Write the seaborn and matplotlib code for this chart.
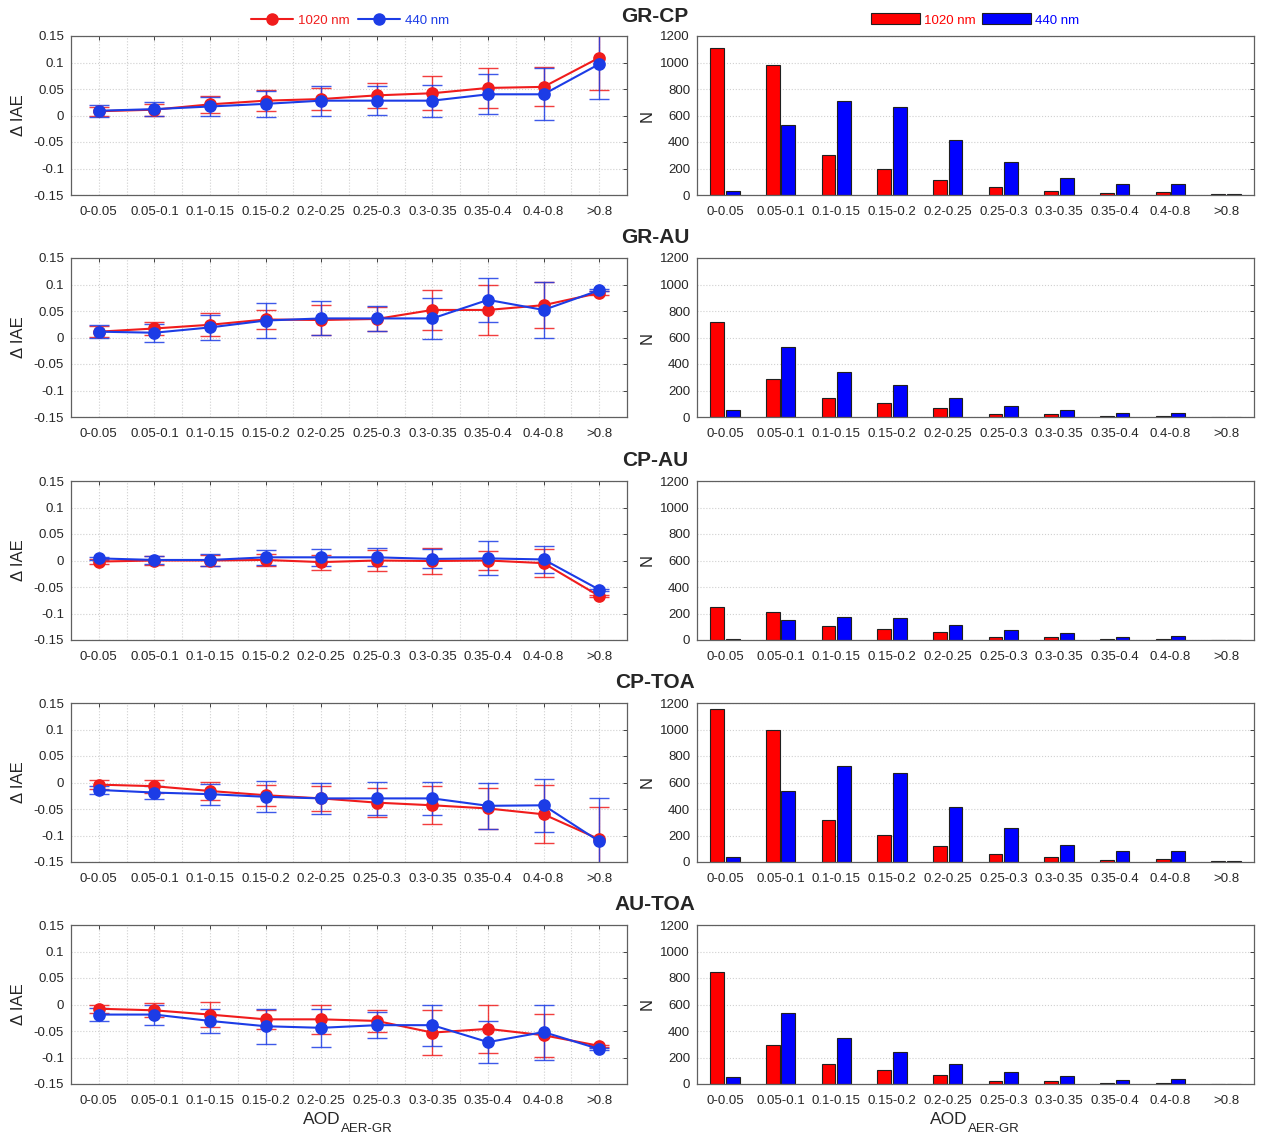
import numpy as np
import pandas as pd
import matplotlib
matplotlib.use('Agg')
import matplotlib.pyplot as plt
from matplotlib.lines import Line2D
from matplotlib.patches import Patch
from matplotlib.ticker import MultipleLocator, FixedLocator
import seaborn as sns

# ---------------------------------------------------------------------------
# data
# ---------------------------------------------------------------------------
bins = ['0-0.05', '0.05-0.1', '0.1-0.15', '0.15-0.2', '0.2-0.25',
        '0.25-0.3', '0.3-0.35', '0.35-0.4', '0.4-0.8', '>0.8']
wavelengths = ['1020 nm', '440 nm']
pairs = ['GR-CP', 'GR-AU', 'CP-AU', 'CP-TOA', 'AU-TOA']

# GR-CP
grcp_1020 = [0.008, 0.011, 0.021, 0.028, 0.031, 0.038, 0.042, 0.052, 0.054, 0.109]
grcp_1020_sd = [0.008, 0.011, 0.016, 0.020, 0.021, 0.024, 0.032, 0.037, 0.037, 0.061]
grcp_440 = [0.009, 0.012, 0.017, 0.022, 0.028, 0.028, 0.028, 0.040, 0.040, 0.097]
grcp_440_sd = [0.011, 0.013, 0.018, 0.025, 0.028, 0.027, 0.030, 0.038, 0.049, 0.065]
grcp_n1020 = [1112, 980, 305, 200, 112, 57, 32, 12, 22, 7]
grcp_n440 = [30, 530, 712, 662, 412, 250, 125, 80, 80, 7]

# GR-AU
grau_1020 = [0.011, 0.017, 0.024, 0.034, 0.033, 0.035, 0.052, 0.052, 0.061, 0.084]
grau_1020_sd = [0.010, 0.013, 0.022, 0.018, 0.029, 0.022, 0.037, 0.047, 0.043, 0.003]
grau_440 = [0.011, 0.009, 0.019, 0.032, 0.036, 0.036, 0.036, 0.071, 0.052, 0.089]
grau_440_sd = [0.012, 0.017, 0.023, 0.033, 0.032, 0.023, 0.039, 0.042, 0.053, 0.002]
grau_n1020 = [720, 290, 142, 102, 67, 25, 25, 7, 10, 0]
grau_n440 = [50, 527, 340, 242, 145, 85, 55, 27, 32, 0]

# CP-AU
cpau_1020 = [-0.002, 0.0, 0.0, 0.001, -0.003, 0.0, -0.001, 0.0, -0.005, -0.067]
cpau_1020_sd = [0.005, 0.009, 0.011, 0.011, 0.014, 0.019, 0.025, 0.017, 0.027, 0.002]
cpau_440 = [0.004, 0.001, 0.001, 0.006, 0.006, 0.006, 0.003, 0.004, 0.002, -0.055]
cpau_440_sd = [0.003, 0.007, 0.011, 0.014, 0.016, 0.017, 0.018, 0.032, 0.026, 0.002]
cpau_n1020 = [250, 212, 102, 80, 60, 20, 20, 7, 10, 2]
cpau_n440 = [10, 150, 175, 165, 110, 72, 50, 22, 27, 2]

# CP-TOA
cptoa_1020 = [-0.004, -0.007, -0.016, -0.024, -0.030, -0.038, -0.043, -0.049, -0.060, -0.107]
cptoa_1020_sd = [0.008, 0.012, 0.017, 0.020, 0.023, 0.028, 0.036, 0.038, 0.055, 0.060]
cptoa_440 = [-0.014, -0.019, -0.022, -0.027, -0.030, -0.030, -0.030, -0.044, -0.043, -0.111]
cptoa_440_sd = [0.008, 0.012, 0.020, 0.029, 0.030, 0.031, 0.031, 0.043, 0.050, 0.081]
cptoa_n1020 = [1152, 997, 315, 202, 120, 62, 37, 15, 25, 7]
cptoa_n440 = [37, 537, 722, 672, 415, 255, 130, 85, 82, 10]

# AU-TOA
autoa_1020 = [-0.008, -0.011, -0.019, -0.028, -0.028, -0.031, -0.053, -0.046, -0.058, -0.078]
autoa_1020_sd = [0.008, 0.013, 0.024, 0.018, 0.027, 0.020, 0.042, 0.046, 0.041, 0.002]
autoa_440 = [-0.019, -0.019, -0.031, -0.041, -0.044, -0.039, -0.039, -0.071, -0.052, -0.084]
autoa_440_sd = [0.013, 0.019, 0.023, 0.033, 0.036, 0.024, 0.039, 0.040, 0.052, 0.002]
autoa_n1020 = [845, 295, 150, 105, 70, 25, 25, 10, 10, 2]
autoa_n440 = [55, 535, 345, 245, 152, 87, 57, 27, 35, 2]

panels = [
    (grcp_1020, grcp_1020_sd, grcp_440, grcp_440_sd, grcp_n1020, grcp_n440),
    (grau_1020, grau_1020_sd, grau_440, grau_440_sd, grau_n1020, grau_n440),
    (cpau_1020, cpau_1020_sd, cpau_440, cpau_440_sd, cpau_n1020, cpau_n440),
    (cptoa_1020, cptoa_1020_sd, cptoa_440, cptoa_440_sd, cptoa_n1020, cptoa_n440),
    (autoa_1020, autoa_1020_sd, autoa_440, autoa_440_sd, autoa_n1020, autoa_n440),
]

# ---------------------------------------------------------------------------
# style
# ---------------------------------------------------------------------------
sns.set_theme(style='white')
plt.rcParams['font.family'] = ['Liberation Sans', 'DejaVu Sans']
plt.rcParams['xtick.direction'] = 'in'
plt.rcParams['ytick.direction'] = 'in'

RED_LINE = '#f01c1c'
BLUE_LINE = '#1c3ce6'
RED_BAR = '#ff0000'
BLUE_BAR = '#0000ff'
SPINE = '#606060'
GRID = '#d0d0d0'
TICK_FS = 9.5

W, H = 1266, 1139
fig = plt.figure(figsize=(W / 100, H / 100), dpi=100)
fig.patch.set_facecolor('white')

row_tops = [36, 258, 481, 703, 925]
ax_h = 159


def frac_box(left, top, width, height):
    return [left / W, 1 - (top + height) / H, width / W, height / H]


def style_axes(ax):
    for s in ax.spines.values():
        s.set_visible(True)
        s.set_color(SPINE)
        s.set_linewidth(0.9)
    ax.tick_params(axis='both', labelsize=TICK_FS, colors='#404040',
                   length=3, width=0.7, top=True, right=True,
                   labelcolor='#262626')
    ax.tick_params(axis='x', pad=8)
    ax.tick_params(axis='y', pad=5)
    ax.set_xlabel('')
    ax.set_ylabel('')


for i, (r_mean, r_sd, b_mean, b_sd, n_red, n_blue) in enumerate(panels):
    top = row_tops[i]

    # ----- left: delta IAE vs AOD bin -----
    ax = fig.add_axes(frac_box(71, top, 556, ax_h))
    df = pd.DataFrame({
        'bin': bins * 2,
        'val': list(r_mean) + list(b_mean),
        'wl': [wavelengths[0]] * len(bins) + [wavelengths[1]] * len(bins),
    })
    pos = np.arange(len(bins))
    ax.errorbar(pos, r_mean, yerr=r_sd, fmt='none', ecolor=RED_LINE,
                elinewidth=1.0, capsize=7, capthick=1.0, alpha=0.85, zorder=2)
    ax.errorbar(pos, b_mean, yerr=b_sd, fmt='none', ecolor=BLUE_LINE,
                elinewidth=1.0, capsize=7, capthick=1.0, alpha=0.85, zorder=2)
    sns.pointplot(data=df, x='bin', y='val', hue='wl', hue_order=wavelengths,
                  palette=[RED_LINE, BLUE_LINE], order=bins, errorbar=None,
                  markers='o', linestyles='-', markersize=8, linewidth=1.5,
                  legend=False, ax=ax)
    ax.set_xlim(-0.5, len(bins) - 0.5)
    ax.set_ylim(-0.15, 0.15)
    yt = [-0.15, -0.1, -0.05, 0, 0.05, 0.1, 0.15]
    ax.yaxis.set_major_locator(FixedLocator(yt))
    ax.set_yticklabels(['%g' % v for v in yt])
    ax.xaxis.set_minor_locator(FixedLocator(pos[:-1] + 0.5))
    ax.grid(True, which='major', color=GRID, linestyle=':', linewidth=0.8)
    ax.grid(True, which='minor', axis='x', color=GRID, linestyle=':',
            linewidth=0.8)
    ax.tick_params(which='minor', length=0)
    style_axes(ax)
    ax.text(-0.095, 0.5, '\u0394 IAE', transform=ax.transAxes, rotation=90,
            ha='center', va='center', fontsize=12)

    # ----- right: number of points per bin -----
    axr = fig.add_axes(frac_box(697, top, 557, ax_h))
    dfn = pd.DataFrame({
        'bin': bins * 2,
        'n': list(n_red) + list(n_blue),
        'wl': [wavelengths[0]] * len(bins) + [wavelengths[1]] * len(bins),
    })
    sns.barplot(data=dfn, x='bin', y='n', hue='wl', hue_order=wavelengths,
                order=bins, palette=[RED_BAR, BLUE_BAR], saturation=1,
                width=0.56, gap=0.12, edgecolor='#202020', linewidth=0.8,
                legend=False, ax=axr)
    axr.set_xlim(-0.5, len(bins) - 0.5)
    axr.set_ylim(0, 1200)
    axr.yaxis.set_major_locator(MultipleLocator(200))
    axr.grid(True, axis='y', color=GRID, linestyle=':', linewidth=0.8)
    axr.set_axisbelow(True)
    style_axes(axr)
    axr.tick_params(axis='x', length=0)
    axr.text(-0.09, 0.5, 'N', transform=axr.transAxes, rotation=90,
             ha='center', va='center', fontsize=12)

    # row title
    fig.text(655 / W, 1 - (top - 20) / H, pairs[i], ha='center', va='center',
             fontsize=15, fontweight='bold')

    if i == len(panels) - 1:
        for a, xa in ((ax, (341 - 71) / 556), (axr, (968 - 697) / 557)):
            a.text(xa, -0.225, 'AOD', transform=a.transAxes, ha='right',
                   va='center', fontsize=12.5)
            a.text(xa, -0.285, 'AER-GR', transform=a.transAxes, ha='left',
                   va='center', fontsize=9.5)

# legends
line_handles = [Line2D([], [], color=RED_LINE, marker='o', markersize=8, lw=1.5),
                Line2D([], [], color=BLUE_LINE, marker='o', markersize=8, lw=1.5)]
fig.legend(line_handles, wavelengths, loc='center', ncol=2,
           bbox_to_anchor=(350 / W, 1 - 21 / H), frameon=False,
           fontsize=9.5, labelcolor=[RED_LINE, BLUE_LINE], handlelength=3.2,
           handletextpad=0.4, columnspacing=0.6)
bar_handles = [Patch(facecolor=RED_BAR, edgecolor='#202020', linewidth=0.8),
               Patch(facecolor=BLUE_BAR, edgecolor='#202020', linewidth=0.8)]
fig.legend(bar_handles, wavelengths, loc='center', ncol=2,
           bbox_to_anchor=(975 / W, 1 - 20 / H), frameon=False,
           fontsize=9.5, labelcolor=[RED_BAR, BLUE_BAR], handlelength=3.7,
           handleheight=0.9, handletextpad=0.3, columnspacing=0.5)

fig.savefig('out.png', dpi=100, facecolor='white')
